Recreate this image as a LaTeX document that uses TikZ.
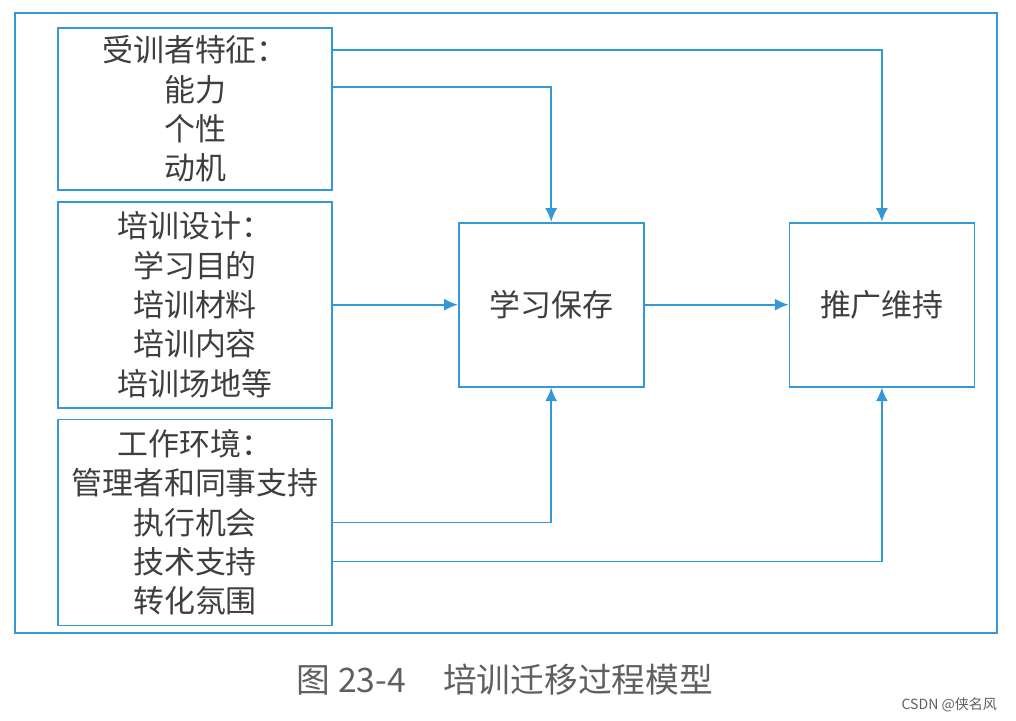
\documentclass[tikz,border=0pt]{standalone}
\usepackage{fontspec}
\usetikzlibrary{arrows.meta,positioning}
\newfontfamily\cjk{Noto Sans CJK SC}
\definecolor{LineBlue}{RGB}{52,152,214}
\definecolor{InkGray}{RGB}{62,62,62}
\definecolor{NoteGray}{RGB}{95,95,95}
\newcommand{\boxfont}{\cjk\fontsize{22}{28}\selectfont}

\begin{document}
\begin{tikzpicture}[
  box/.style={draw=LineBlue,line width=1.2pt,align=center,text=InkGray,font=\boxfont,inner sep=0pt},
  sidebox/.style={box,minimum width=6.85cm},
  stagebox/.style={box,minimum width=4.625cm,minimum height=4.1cm},
  flow/.style={-{Latex[length=3.4mm,width=3mm]},LineBlue,line width=1.2pt}]
  \useasboundingbox (0,0) rectangle (25.4,18);
  \draw[LineBlue,line width=1.2pt] (0.375,2.175) rectangle (24.925,17.675);
  % left column
  \node[sidebox,minimum height=4.05cm] (trainee) at (4.875,15.275) {受训者特征：\\能力\\个性\\动机};
  \node[sidebox,minimum height=5.15cm,below=0.25cm of trainee] (design) {培训设计：\\学习目的\\培训材料\\培训内容\\培训场地等};
  \node[sidebox,minimum height=5.15cm,below=0.25cm of design] (setting) {工作环境：\\管理者和同事支持\\执行机会\\技术支持\\转化氛围};
  % stages
  \node[stagebox,right=3.125cm of design] (retain) {学习保存};
  \node[stagebox,right=3.6cm of retain] (spread) {推广维持};
  % arrows
  \draw[flow] ([yshift=1.475cm]trainee.east) -| (spread.north);
  \draw[flow] ([yshift=0.55cm]trainee.east) -| (retain.north);
  \draw[flow] (design.east) -- (retain.west);
  \draw[flow] (retain.east) -- (spread.west);
  \draw[flow] (setting.east) -| (retain.south);
  \draw[flow] ([yshift=-0.975cm]setting.east) -| (spread.south);
  % caption
  \node[NoteGray,font=\cjk\fontsize{24}{28}\selectfont] (caption) at (12.625,1.0) {图 23-4\hspace{1.1em}培训迁移过程模型};
  \node[NoteGray,font=\cjk\fontsize{10}{12}\selectfont,anchor=east] (mark) at (25.05,0.375) {CSDN @侠名风};
\end{tikzpicture}
\end{document}
